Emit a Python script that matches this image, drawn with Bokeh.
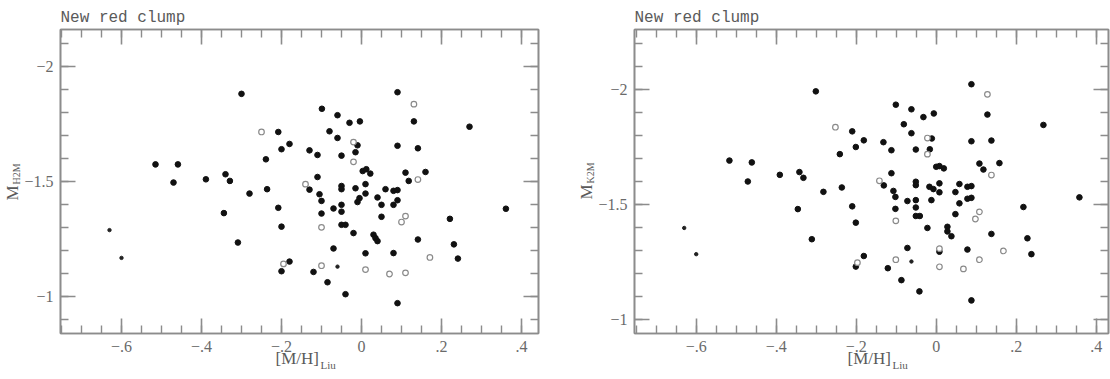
import numpy as np
from bokeh.plotting import figure
from bokeh.models import Range1d, FixedTicker, LinearAxis, Title
from bokeh.layouts import row
from bokeh.embed import file_html
from bokeh.resources import INLINE

# ---------------- data: left panel (M_H2M) ----------------
h_fill_x = [0.09, -0.099, -0.06, -0.03, -0.004, -0.208, -0.08, -0.06, -0.01, 0.09,
            -0.18, -0.2, -0.13, -0.11, -0.05, -0.015, 0.003, 0.012, 0.022, 0.11,
            0.118, -0.11, -0.13, -0.05, -0.05, -0.015, 0.01, 0.01, 0.06, 0.08,
            0.09, -0.105, -0.1, -0.005, -0.01, 0.04, 0.09, -0.208, -0.07, -0.05,
            -0.05, 0.05, 0.08, -0.1, 0.05, -0.2, -0.05, -0.04, -0.02, 0.03,
            0.035, 0.04, -0.07, 0.01, 0.08, -0.18, -0.2, -0.12, -0.085, -0.04,
            0.09, 0.131, 0.27, 0.141, 0.16, 0.361, 0.221, 0.141, 0.231, 0.241,
            -0.3, -0.239, -0.515, -0.459, -0.47, -0.389, -0.34, -0.329, -0.236, -0.28,
            -0.344, -0.309]
h_fill_y = [-1.887, -1.815, -1.787, -1.754, -1.760, -1.714, -1.717, -1.688, -1.656, -1.654,
            -1.662, -1.639, -1.634, -1.614, -1.611, -1.626, -1.544, -1.552, -1.533, -1.537,
            -1.501, -1.518, -1.463, -1.479, -1.465, -1.469, -1.487, -1.446, -1.465, -1.458,
            -1.461, -1.443, -1.414, -1.426, -1.409, -1.429, -1.417, -1.384, -1.381, -1.397,
            -1.367, -1.397, -1.397, -1.359, -1.345, -1.302, -1.310, -1.310, -1.274, -1.267,
            -1.252, -1.239, -1.207, -1.186, -1.187, -1.150, -1.108, -1.105, -1.060, -1.008,
            -0.969, -1.760, -1.737, -1.643, -1.540, -1.380, -1.336, -1.246, -1.225, -1.163,
            -1.880, -1.595, -1.573, -1.573, -1.494, -1.508, -1.530, -1.501, -1.465, -1.446,
            -1.361, -1.233]
h_open_x = [-0.02, -0.02, -0.14, 0.11, 0.10, -0.10, -0.195, -0.10, 0.01, 0.07,
            0.11, 0.131, 0.141, 0.171, -0.25]
h_open_y = [-1.670, -1.584, -1.487, -1.348, -1.322, -1.299, -1.140, -1.132, -1.115, -1.096,
            -1.101, -1.835, -1.507, -1.168, -1.714]
h_small_x = [-0.63, -0.60, -0.06]
h_small_y = [-1.287, -1.166, -1.128]

# ---------------- data: right panel (M_K2M) ----------------
k_fill_x = [0.088, -0.101, -0.062, -0.032, -0.006, -0.21, -0.081, -0.062, -0.011, 0.088,
            -0.181, -0.201, -0.132, -0.112, -0.051, -0.016, 0.0, 0.008, 0.019, 0.108,
            0.118, -0.112, -0.131, -0.051, -0.051, -0.017, -0.007, 0.008, 0.008, 0.058,
            0.078, 0.088, -0.107, -0.102, -0.012, 0.048, 0.058, 0.078, 0.088, -0.21,
            -0.072, -0.051, -0.051, -0.102, 0.048, -0.201, -0.051, -0.041, -0.022, 0.028,
            0.028, 0.038, -0.072, 0.008, 0.078, -0.181, -0.201, -0.121, -0.087, -0.042,
            0.088, 0.128, 0.268, 0.138, 0.158, 0.358, 0.218, 0.138, 0.228, 0.238,
            -0.301, -0.517, -0.461, -0.471, -0.391, -0.342, -0.332, -0.282, -0.241, -0.236,
            -0.346, -0.311]
k_fill_y = [-2.024, -1.935, -1.915, -1.881, -1.897, -1.819, -1.850, -1.811, -1.788, -1.776,
            -1.780, -1.751, -1.772, -1.737, -1.740, -1.741, -1.665, -1.668, -1.658, -1.679,
            -1.653, -1.637, -1.584, -1.600, -1.585, -1.578, -1.568, -1.593, -1.554, -1.590,
            -1.578, -1.581, -1.560, -1.534, -1.520, -1.555, -1.506, -1.526, -1.530, -1.493,
            -1.516, -1.520, -1.488, -1.482, -1.459, -1.422, -1.451, -1.451, -1.399, -1.404,
            -1.384, -1.363, -1.312, -1.296, -1.305, -1.277, -1.231, -1.224, -1.172, -1.123,
            -1.084, -1.892, -1.847, -1.779, -1.681, -1.532, -1.490, -1.373, -1.354, -1.285,
            -1.993, -1.692, -1.684, -1.601, -1.630, -1.642, -1.617, -1.556, -1.720, -1.575,
            -1.481, -1.350]
k_open_x = [-0.022, -0.022, -0.142, 0.108, 0.098, -0.101, 0.008, -0.197, -0.101, 0.008,
            0.068, 0.108, 0.128, 0.138, 0.168, -0.252]
k_open_y = [-1.790, -1.720, -1.604, -1.469, -1.438, -1.430, -1.309, -1.248, -1.261, -1.230,
            -1.221, -1.261, -1.980, -1.629, -1.299, -1.837]
k_small_x = [-0.63, -0.60, -0.062]
k_small_y = [-1.399, -1.285, -1.253]

# ---------------- ticks ----------------
x_ticks = [-0.6, -0.4, -0.2, 0.0, 0.2, 0.4]
x_tick_labels = ["\u2212.6", "\u2212.4", "\u2212.2", "0", ".2", ".4"]
y_ticks = [-2.0, -1.5, -1.0]
y_tick_labels = ["\u22122", "\u22121.5", "\u22121"]

title_text = "New red clump"
xlabel_main = "[M/H]"
xlabel_sub = "Liu"
ylabel_main = "M"

FRAME = "#8c8c8c"
TXT = "#5a5a5a"
SERIF = "Liberation Serif"
MONO = "Liberation Mono"


def style_axis(ax, ticker, overrides, show_labels):
    ax.ticker = ticker
    ax.axis_line_color = FRAME
    ax.axis_line_width = 1.6
    ax.major_tick_line_color = FRAME
    ax.major_tick_line_width = 1.6
    ax.minor_tick_line_color = FRAME
    ax.minor_tick_line_width = 1.4
    ax.major_tick_in = 15
    ax.major_tick_out = 0
    ax.minor_tick_in = 8
    ax.minor_tick_out = 0
    ax.major_label_text_font = SERIF
    ax.major_label_text_color = "#6a6a6a"
    if show_labels:
        ax.major_label_overrides = overrides
        ax.major_label_text_font_size = "16px"
        ax.major_label_standoff = 7
    else:
        ax.major_label_overrides = {t: "" for t in overrides}
        ax.major_label_text_font_size = "1px"
        ax.major_label_standoff = 0


def text_title(text, size, align, valign, offset, standoff):
    return Title(text=text, align=align, vertical_align=valign, offset=offset,
                 standoff=standoff, text_font=SERIF, text_font_size=size,
                 text_font_style="normal", text_color=TXT)


def panel(fx, fy, ox, oy, sx, sy, xr, yr, borders, ysub, xoff, yoff):
    left, right, top, bottom = borders
    p = figure(width=555, height=379, output_backend="svg", toolbar_location=None,
               x_range=Range1d(*xr), y_range=Range1d(*yr),
               min_border_left=left, min_border_right=right,
               min_border_top=top, min_border_bottom=bottom, title=title_text)
    bottom_ax = p.xaxis[0]
    left_ax = p.yaxis[0]
    p.grid.visible = False
    p.outline_line_color = FRAME
    p.outline_line_width = 1.6
    p.background_fill_color = "white"
    p.border_fill_color = "white"

    p.title.align = "left"
    p.title.vertical_align = "top"
    p.title.offset = 0
    p.title.standoff = 2
    p.title.text_font = MONO
    p.title.text_font_size = "16px"
    p.title.text_font_style = "normal"
    p.title.text_color = TXT

    xt = FixedTicker(ticks=x_ticks, minor_ticks=list(np.round(np.arange(-0.75, 0.451, 0.05), 3)))
    yt = FixedTicker(ticks=y_ticks, minor_ticks=list(np.round(np.arange(-2.3, -0.85, 0.1), 3)))
    xo = {t: l for t, l in zip(x_ticks, x_tick_labels)}
    yo = {t: l for t, l in zip(y_ticks, y_tick_labels)}

    style_axis(bottom_ax, xt, xo, True)
    style_axis(left_ax, yt, yo, True)
    top_ax = LinearAxis()
    style_axis(top_ax, xt, xo, False)
    p.add_layout(top_ax, "above")
    right_ax = LinearAxis()
    style_axis(right_ax, yt, yo, False)
    p.add_layout(right_ax, "right")

    # x label: "[M/H]" with subscript "Liu"
    p.add_layout(text_title(xlabel_main, "17px", "left", "top", xoff, -12), "below")
    p.add_layout(text_title(xlabel_sub, "11px", "left", "top", xoff + 45, -9), "below")
    # y label: "M" with subscript, reading upwards
    p.add_layout(text_title(ysub, "10px", "left", "bottom", yoff + 16, 0), "left")
    p.add_layout(text_title(ylabel_main, "17px", "left", "bottom", yoff, -26), "left")

    p.scatter(fx, fy, size=5.6, marker="circle", fill_color="#111111", line_color="#111111")
    p.scatter(ox, oy, size=5.6, marker="circle", fill_color="white", line_color="#8a8a8a",
              line_width=1.2)
    p.scatter(sx, sy, size=3.4, marker="circle", fill_color="#222222", line_color="#222222")
    return p


p1 = panel(h_fill_x, h_fill_y, h_open_x, h_open_y, h_small_x, h_small_y,
           (-0.7525, 0.4425), (-0.837, -2.160), (60, 17, 28, 46), "H2M", 215, 133)
p2 = panel(k_fill_x, k_fill_y, k_open_x, k_open_y, k_small_x, k_small_y,
           (-0.7543, 0.4307), (-0.940, -2.262), (79, 2, 29, 45), "K2M", 213, 134)

layout = row(p1, p2, spacing=0)
open("out.html", "w").write(file_html(layout, INLINE))
